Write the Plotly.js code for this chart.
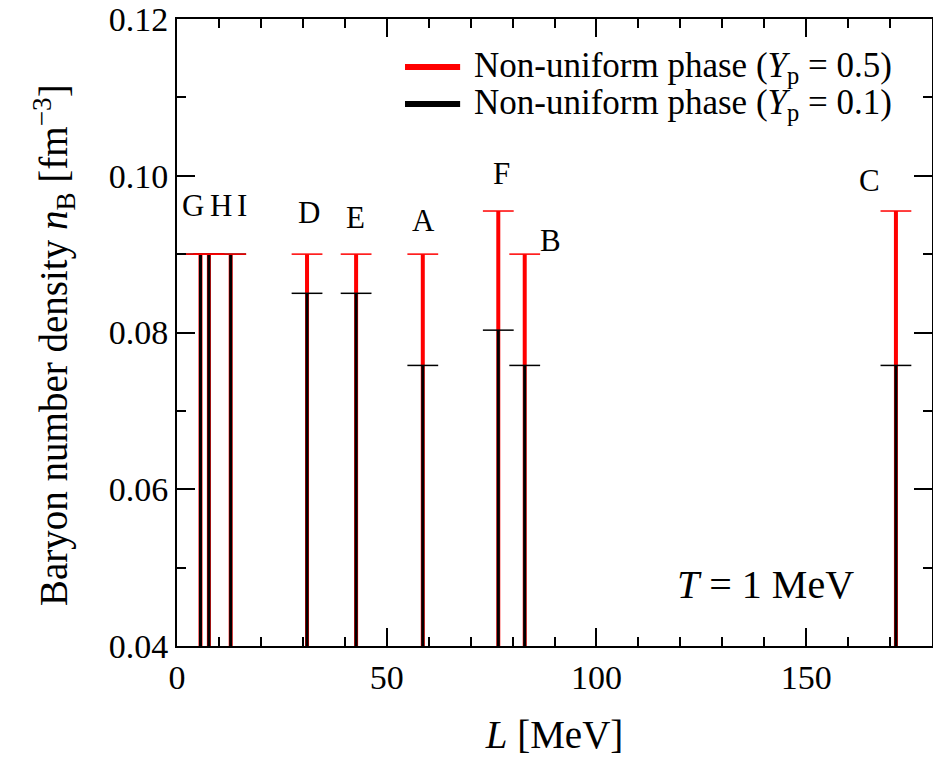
<!DOCTYPE html>
<html>
<head>
<meta charset="utf-8">
<script src="https://cdn.plot.ly/plotly-3.0.1.min.js"></script>
<style>html,body{margin:0;padding:0;background:#fff;}#chart{width:933px;height:758px;}</style>
</head>
<body>
<div id="chart"></div>
<script>
// ---- data ----
const models = ['G', 'H', 'I', 'D', 'E', 'A', 'F', 'B', 'C'];
const slopeL = [5.6, 7.6, 12.8, 31.0, 42.7, 58.6, 76.6, 82.9, 171.4];        // L [MeV]
const nbMaxYp05 = [0.090, 0.090, 0.090, 0.090, 0.090, 0.090, 0.0955, 0.090, 0.0955]; // upper edge, Yp = 0.5
const nbMaxYp01 = [0.090, 0.090, 0.090, 0.085, 0.085, 0.0758, 0.0803, 0.0758, 0.0758]; // upper edge, Yp = 0.1
const nbBottom = 0.03;
const seriesNames = ['Non-uniform phase (<i>Y</i><sub>p</sub> = 0.5)', 'Non-uniform phase (<i>Y</i><sub>p</sub> = 0.1)'];
const xTickVals = [0, 50, 100, 150];
const yTickVals = [0.04, 0.06, 0.08, 0.10, 0.12];
const yTickText = ['0.04', '0.06', '0.08', '0.10', '0.12'];
const xTitle = '<i>L</i> [MeV]';
const yTitle = 'Baryon number density <i>n</i><sub>B</sub> [fm<sup>\u22123</sup>]';

// label placement (annotation positions)
const labelPos = {
  G: [3.7, 0.0962], H: [10.6, 0.0962], I: [15.6, 0.0962],
  D: [31.4, 0.0953], E: [42.6, 0.0947], A: [58.8, 0.0943],
  F: [77.4, 0.1003], B: [89.0, 0.0918], C: [165.0, 0.0994]
};

function segments(xs, tops) {
  const x = [], y = [];
  xs.forEach((v, i) => { x.push(v, v, null); y.push(nbBottom, tops[i], null); });
  return {x, y};
}

const RED = '#ff0000', BLACK = '#000000';
const FONT = '"Liberation Serif", "Times New Roman", serif';

const s05 = segments(slopeL, nbMaxYp05);
const s01 = segments(slopeL, nbMaxYp01);

const traces = [
  {x: s05.x, y: s05.y, mode: 'lines', line: {color: RED, width: 4},
   name: seriesNames[0], showlegend: false, hoverinfo: 'skip'},
  {x: s01.x, y: s01.y, mode: 'lines', line: {color: BLACK, width: 3},
   name: seriesNames[1], showlegend: false, hoverinfo: 'skip'},
  {x: slopeL, y: nbMaxYp01, mode: 'markers', showlegend: false, hoverinfo: 'skip',
   marker: {symbol: 'line-ew-open', size: 22, color: BLACK, line: {color: BLACK, width: 1.5}}},
  {x: slopeL, y: nbMaxYp05, mode: 'markers', showlegend: false, hoverinfo: 'skip',
   marker: {symbol: 'line-ew-open', size: 22, color: RED, line: {color: RED, width: 1.5}}}
];

const annotations = models.map(m => ({
  x: labelPos[m][0], y: labelPos[m][1], xref: 'x', yref: 'y', text: m,
  showarrow: false, xanchor: 'center', yanchor: 'middle',
  font: {family: FONT, size: 31, color: BLACK}
}));
annotations.push({
  x: 140.3, y: 0.0479, xref: 'x', yref: 'y', text: '<i>T</i> = 1 MeV',
  showarrow: false, xanchor: 'center', yanchor: 'middle',
  font: {family: FONT, size: 40, color: BLACK}
});
// y-axis title (placed as rotated text to match the reference offset)
annotations.push({
  xref: 'paper', yref: 'paper', x: -0.163, y: 0.48, text: yTitle, textangle: -90,
  showarrow: false, xanchor: 'center', yanchor: 'middle',
  font: {family: FONT, size: 39, color: BLACK}
});

// custom legend (line samples + labels)
const legendColors = [RED, BLACK];
const legendY = [0.9234, 0.8644];
const shapes = [];
seriesNames.forEach((nm, i) => {
  shapes.push({type: 'line', xref: 'paper', yref: 'paper', x0: 0.302, x1: 0.375,
               y0: legendY[i], y1: legendY[i], line: {color: legendColors[i], width: 6}});
  annotations.push({xref: 'paper', yref: 'paper', x: 0.3907, y: legendY[i],
                    xanchor: 'left', yanchor: 'middle', text: nm, showarrow: false,
                    font: {family: FONT, size: 35, color: BLACK}});
});

const axisCommon = {
  showline: true, linecolor: BLACK, linewidth: 2, mirror: 'allticks',
  ticks: 'inside', ticklen: 18, tickwidth: 2, tickcolor: BLACK,
  showgrid: false, zeroline: false,
  tickfont: {family: FONT, size: 34, color: BLACK}
};

const layout = {
  width: 933, height: 758,
  font: {family: FONT, color: BLACK},
  margin: {l: 177, r: 1, t: 19, b: 112},
  paper_bgcolor: '#fff', plot_bgcolor: '#fff',
  showlegend: false,
  xaxis: Object.assign({}, axisCommon, {
    range: [0, 180], tickvals: xTickVals,
    minor: {dtick: 10, tick0: 0, ticks: 'inside', ticklen: 9, tickwidth: 2, tickcolor: BLACK, showgrid: false},
    title: {text: xTitle, font: {family: FONT, size: 39, color: BLACK}, standoff: 26}
  }),
  yaxis: Object.assign({}, axisCommon, {
    range: [0.04, 0.12], tickvals: yTickVals, ticktext: yTickText,
    minor: {dtick: 0.01, tick0: 0.04, ticks: 'inside', ticklen: 9, tickwidth: 2, tickcolor: BLACK, showgrid: false}
  }),
  shapes: shapes,
  annotations: annotations
};

Plotly.newPlot('chart', traces, layout, {displayModeBar: false, staticPlot: true});
</script>
</body>
</html>
